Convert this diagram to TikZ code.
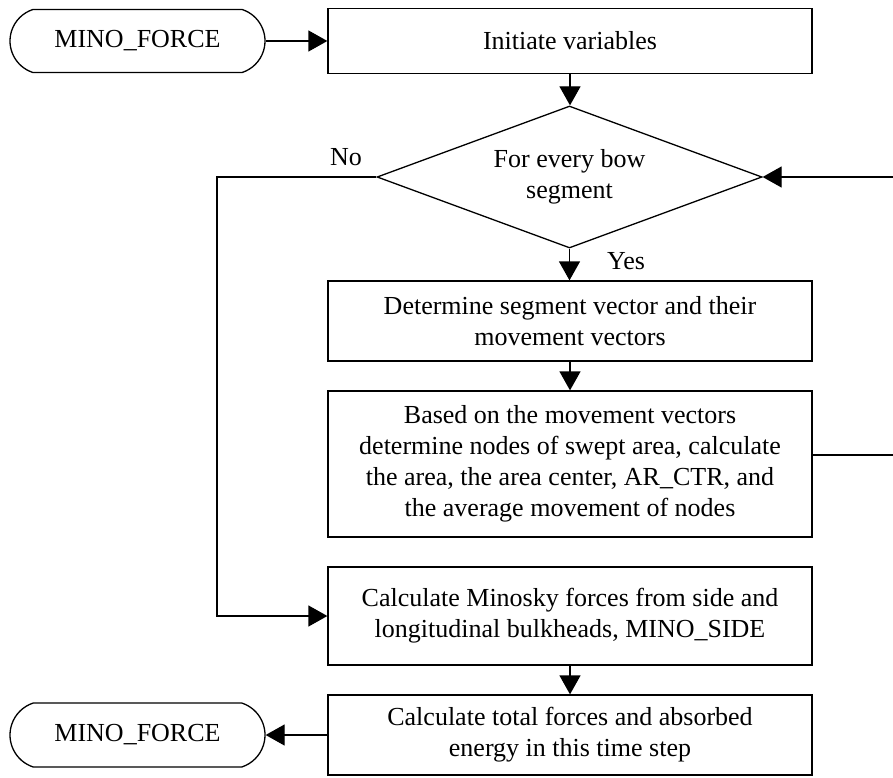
\documentclass[tikz,border=0pt]{standalone}
\usepackage{fontspec}
\setmainfont{Liberation Serif}
\usetikzlibrary{shapes.geometric,shapes.misc,arrows.meta}
\begin{document}
\begin{tikzpicture}[x=1pt,y=-1pt,
  every node/.style={font=\fontsize{26}{31}\selectfont},
  procbox/.style={draw, line width=1.3pt, rectangle, minimum width=484pt, inner sep=0pt, align=center},
  decbox/.style={draw, line width=1.3pt, diamond, shape aspect=2.71, minimum width=385pt, minimum height=142pt, inner sep=0pt, align=center},
  termbox/.style={draw, line width=1.3pt, rounded rectangle, rounded rectangle arc length=144, minimum width=255pt, minimum height=63pt, inner sep=0pt},
  flow/.style={line width=1.3pt, -{Triangle[length=19pt,width=21pt]}},
  lbl/.style={inner sep=0pt}]
\useasboundingbox (0,0) rectangle (893,778);

\node[termbox] (start) at (137.5,41) {MINO\_FORCE};
\node[procbox, minimum height=65pt] (init) at (570,41) {Initiate variables};
\node[decbox] (dia) at (569.5,177) {For every bow\\segment};
\node[procbox, minimum height=80pt] (det) at (570,321) {Determine segment vector and their\\movement vectors};
\node[procbox, minimum height=146pt] (based) at (570,464) {Based on the movement vectors\\determine nodes of swept area, calculate\\the area, the area center, AR\_CTR, and\\the average movement of nodes};
\node[procbox, minimum height=98pt] (mino) at (570,616) {Calculate Minosky forces from side and\\longitudinal bulkheads, MINO\_SIDE};
\node[procbox, minimum height=80pt] (total) at (570,735) {Calculate total forces and absorbed\\energy in this time step};
\node[termbox, minimum height=64pt] (endt) at (137.5,735) {MINO\_FORCE};

\node[lbl] (nolab) at (346,157) {No};
\node[lbl] (yeslab) at (626,261) {Yes};

\coordinate (lx) at (217,177);
\coordinate (rx) at (895,455);

\draw[flow] (start.east) -- (start.east -| init.west);
\draw[flow] (init.south) -- (init.south |- dia.north);
\draw[flow] (dia.south) -- (dia.south |- det.north);
\draw[flow] (det.south) -- (based.north);
\draw[flow] (dia.west) -- (lx) |- (mino.west);
\draw[flow] (based.east |- rx) -- (rx) |- (dia.east);
\draw[flow] (mino.south) -- (total.north);
\draw[flow] (total.west) -- (total.west -| endt.east);
\end{tikzpicture}
\end{document}
